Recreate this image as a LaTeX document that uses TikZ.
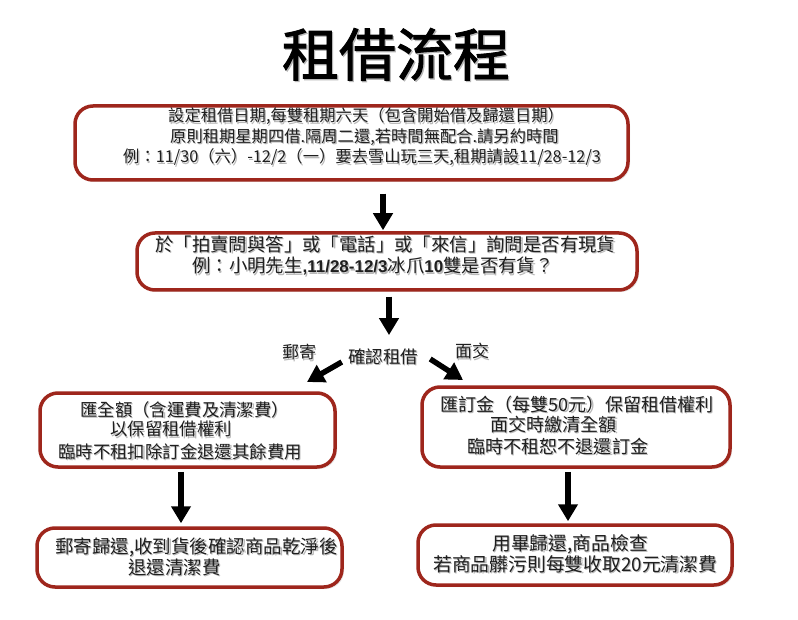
\documentclass[tikz,border=0pt]{standalone}
\usepackage{fontspec}
\setmainfont{Noto Sans CJK TC}
\newfontfamily\titlefont{Noto Sans CJK TC}[FakeBold=1.6]
\newfontfamily\latinfont{Liberation Sans}
\usetikzlibrary{arrows.meta,shadows}
\definecolor{boxred}{RGB}{158,38,28}
\newcommand{\shtxt}[2][1.2pt]{\rlap{\textcolor{black!28}{\hspace{#1}\raisebox{-#1}{#2}}}#2}
\newcommand{\fs}[1]{\fontsize{#1pt}{#1pt}\selectfont}
\newcommand{\bl}[1]{{\latinfont\bfseries\fontsize{17pt}{17pt}\selectfont #1}}
\tikzset{
  box/.style={draw=boxred, line width=3.5pt, rounded corners=18pt, fill=white, inner sep=0pt,
    drop shadow={opacity=0.18, shadow xshift=2pt, shadow yshift=-2pt}},
  txt/.style={anchor=west, inner sep=0pt, text=black!88},
  lbl/.style={inner sep=0pt, text=black!88},
  bigarrow/.style={line width=5.5pt, black, -{Triangle[width=19pt,length=17pt]}},
}
\begin{document}
\begin{tikzpicture}[x=1pt,y=-1pt]
\fill[white] (0,0) rectangle (798,620);
\useasboundingbox (0,0) rectangle (798,620);

% title
\node[lbl, font=\titlefont\fs{57}, text=black] (title) at (396,55) {\shtxt[1.3pt]{租借流程}};

% boxes
\node[box, minimum width=553pt, minimum height=74pt] (b1) at (351.5,143) {};
\node[box, minimum width=500pt, minimum height=57pt] (b2) at (387,261.5) {};
\node[box, minimum width=295pt, minimum height=74pt] (b3) at (187.5,430) {};
\node[box, minimum width=308pt, minimum height=80pt] (b4) at (576,427) {};
\node[box, minimum width=305pt, minimum height=59pt] (b5) at (189.5,557.5) {};
\node[box, minimum width=314pt, minimum height=60pt] (b6) at (575,555) {};

% box 1 text
\node[txt, font=\fs{16.3}] (t11) at (168,117) {\shtxt{設定租借日期,每雙租期六天（包含開始借及歸還日期）}};
\node[txt, font=\fs{16.3}] (t12) at (170,138) {\shtxt{原則租期星期四借.隔周二還,若時間無配合.請另約時間}};
\node[txt, font=\fs{16.3}] (t13) at (123,158) {\shtxt{例：11/30（六）-12/2（一）要去雪山玩三天,租期請設11/28-12/3}};

% box 2 text
\node[txt, font=\fs{18.4}] (t21) at (155,245) {\shtxt{於「拍賣問與答」或「電話」或「來信」詢問是否有現貨}};
\node[txt, font=\fs{18.4}] (t22) at (192,267) {\shtxt{例：小明先生\bl{,11/28-12/3}冰爪\bl{10}雙是否有貨？}};

% labels
\node[lbl, font=\fs{17}] (lpost) at (299,353) {\shtxt{郵寄}};
\node[lbl, font=\fs{17.5}] (lab) at (383,357) {\shtxt{確認租借}};
\node[lbl, font=\fs{17}] (lface) at (472,352) {\shtxt{面交}};

% box 3 text
\node[txt, font=\fs{17.4}] (t31) at (80,410) {\shtxt{匯全額（含運費及清潔費）}};
\node[txt, font=\fs{17.4}] (t32) at (110,430) {\shtxt{以保留租借權利}};
\node[txt, font=\fs{17.4}] (t33) at (58,452) {\shtxt{臨時不租扣除訂金退還其餘費用}};

% box 4 text
\node[txt, font=\fs{18.1}] (t41) at (440,405) {\shtxt{匯訂金（每雙50元）保留租借權利}};
\node[txt, font=\fs{18.1}] (t42) at (490,425) {\shtxt{面交時繳清全額}};
\node[txt, font=\fs{18.1}] (t43) at (467,447) {\shtxt{臨時不租恕不退還訂金}};

% box 5 text
\node[txt, font=\fs{18.5}] (t51) at (55,548) {\shtxt{郵寄歸還,收到貨後確認商品乾淨後}};
\node[txt, font=\fs{18.5}] (t52) at (128,568) {\shtxt{退還清潔費}};

% box 6 text
\node[txt, font=\fs{18.8}] (t61) at (492,545) {\shtxt{用畢歸還,商品檢查}};
\node[txt, font=\fs{18.8}] (t62) at (433,565) {\shtxt{若商品髒污則每雙收取20元清潔費}};

% arrow end points
\coordinate (cl) at (307,382);
\coordinate (cr) at (463,380);

% connectors
\draw[bigarrow] ([xshift=31.5pt,yshift=-12pt]b1.south) -- ([xshift=-4pt,yshift=1pt]b2.north);
\draw[bigarrow] ([xshift=2pt,yshift=-5pt]b2.south) -- ([xshift=6pt,yshift=13pt]lab.north);
\draw[bigarrow] ([xshift=-6pt,yshift=-5pt]lab.west) -- (cl);
\draw[bigarrow] ([xshift=12pt,yshift=-2pt]lab.east) -- (cr);
\draw[bigarrow] ([xshift=-6.5pt,yshift=-3pt]b3.south) -- ([xshift=-8.5pt,yshift=3pt]b5.north);
\draw[bigarrow] ([xshift=-8pt,yshift=-3pt]b4.south) -- ([xshift=-7pt,yshift=2pt]b6.north);
\end{tikzpicture}
\end{document}
